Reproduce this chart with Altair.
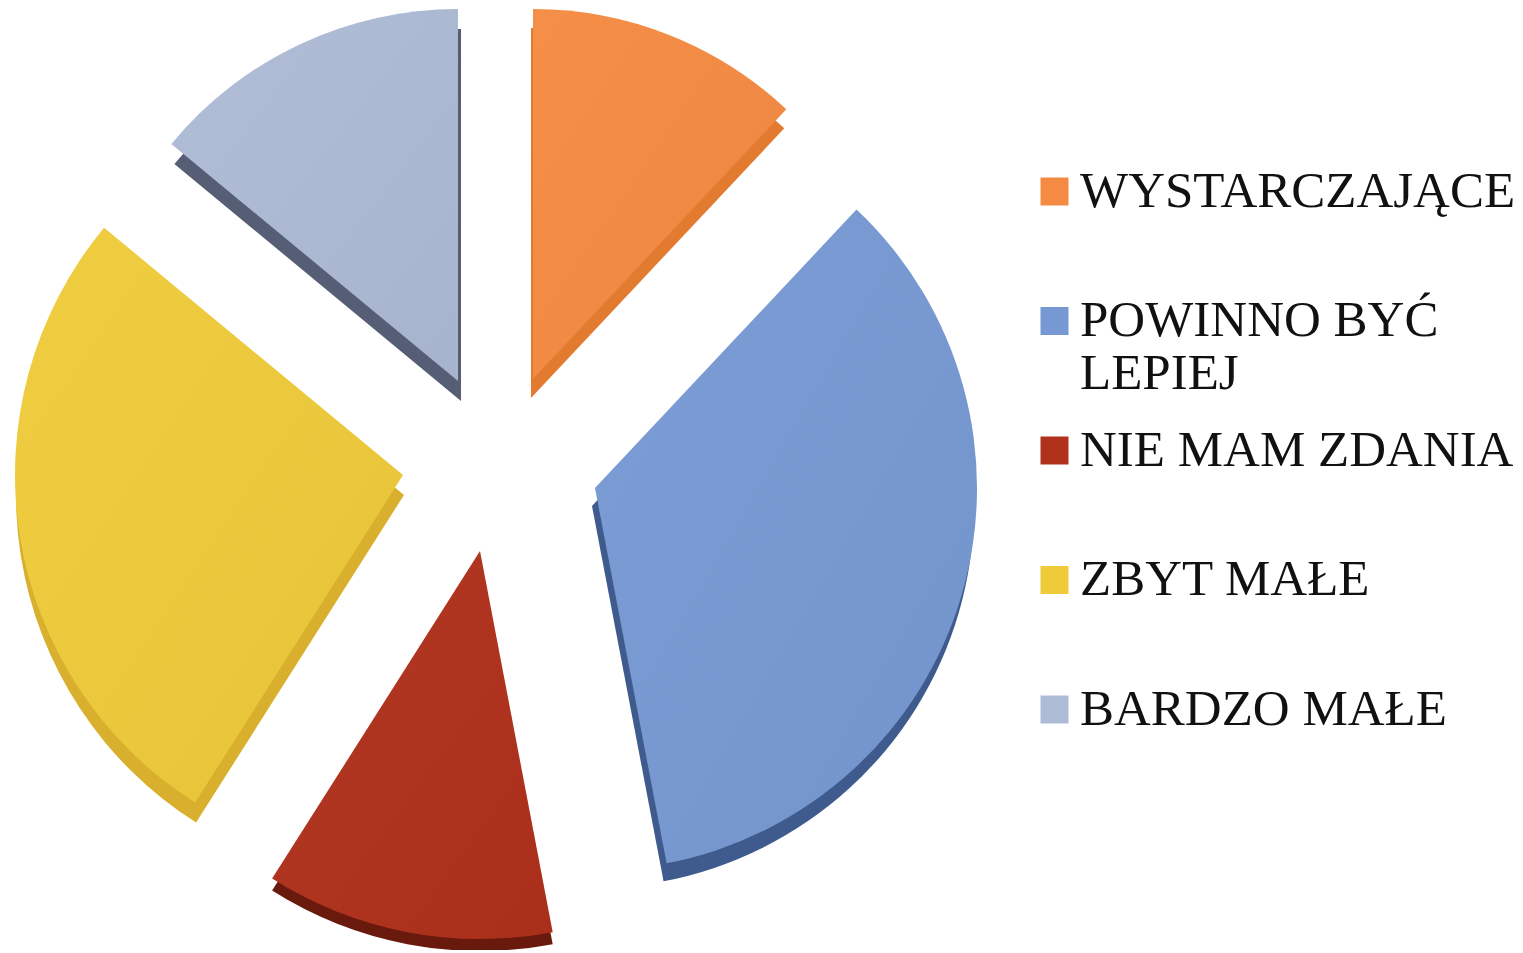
import altair as alt
import pandas as pd

categories = ["WYSTARCZAJĄCE", "POWINNO BYĆ LEPIEJ", "NIE MAM ZDANIA", "ZBYT MAŁE", "BARDZO MAŁE"]
values = [12, 35, 12, 27, 14]
order = [1, 2, 3, 4, 5]
face_colors = ["#f58b42", "#7799d3", "#b0311c", "#efcb3a", "#aebbd6"]
side_colors = ["#e27a30", "#3f5a8c", "#6a1a0c", "#d9b02e", "#565e75"]
# Where each exploded slice's tip sits, its radius, and the depth of its extrusion
tip_x = [533, 595, 480, 403, 458]
tip_y = [379, 488, 551, 475, 381]
radius = [370, 382, 388, 388, 372]
depth_x = [-2, -3, 0, 1, 3]
depth_y = [19, 18, 12, 20, 20]

df = pd.DataFrame({
    "cat": categories, "value": values, "order": order,
    "tx": tip_x, "ty": tip_y, "r": radius,
    "dx": depth_x, "dy": depth_y, "side": side_colors,
})

W, H = 1507, 942
xs = alt.Scale(domain=[8, 8 + W], range=[0, W], nice=False, zero=False)
ys = alt.Scale(domain=[8, 8 + H], range=[0, H], nice=False, zero=False)
ts = alt.Scale(domain=[0, 100], range=[0, 6.283185307])
rs = alt.Scale(type="linear", domain=[0, 500], range=[0, 500], zero=True, nice=False)

base = alt.Chart(df).transform_window(
    end="sum(value)", sort=[alt.SortField("order")]
).transform_calculate(
    start="datum.end - datum.value",
    sx="datum.tx + datum.dx",
    sy="datum.ty + datum.dy",
)

angle = dict(
    theta=alt.Theta("start:Q", scale=ts),
    theta2=alt.Theta2("end:Q"),
    radius=alt.Radius("r:Q", scale=rs),
)

sides = base.mark_arc(stroke=None).encode(
    x=alt.X("sx:Q", scale=xs, axis=None),
    y=alt.Y("sy:Q", scale=ys, axis=None),
    fill=alt.Fill("side:N", scale=None),
    **angle,
)

faces = base.mark_arc().encode(
    x=alt.X("tx:Q", scale=xs, axis=None),
    y=alt.Y("ty:Q", scale=ys, axis=None),
    fill=alt.Fill(
        "cat:N",
        sort=categories,
        scale=alt.Scale(domain=categories, range=face_colors),
        legend=alt.Legend(
            title=None,
            orient="none",
            legendX=1021,
            legendY=158,
            symbolType="square",
            symbolSize=784,
            symbolStrokeWidth=0,
            symbolOpacity=1,
            labelFont="Liberation Serif",
            labelFontSize=51,
            labelColor="#111111",
            labelLimit=520,
            labelOffset=0,
            labelBaseline="middle",
            labelExpr="datum.label == 'POWINNO BYĆ LEPIEJ' ? ['POWINNO BYĆ', 'LEPIEJ'] : datum.label",
            gridAlign="all",
            rowPadding=24.5,
            columns=1,
        ),
    ),
    **angle,
)

shade = base.mark_arc(
    fill=alt.LinearGradient(
        gradient="linear",
        x1=0, y1=0, x2=1, y2=1,
        stops=[
            alt.GradientStop(offset=0, color="rgba(255,255,255,0.03)"),
            alt.GradientStop(offset=1, color="rgba(0,0,0,0.04)"),
        ],
    )
).encode(
    x=alt.X("tx:Q", scale=xs, axis=None),
    y=alt.Y("ty:Q", scale=ys, axis=None),
    **angle,
)

chart = (
    alt.layer(sides, faces, shade)
    .properties(width=W, height=H, padding=0, autosize=alt.AutoSizeParams(type="none"))
    .configure_view(stroke=None)
)

chart.save("out.html", embed_options={"renderer": "svg", "actions": False})
